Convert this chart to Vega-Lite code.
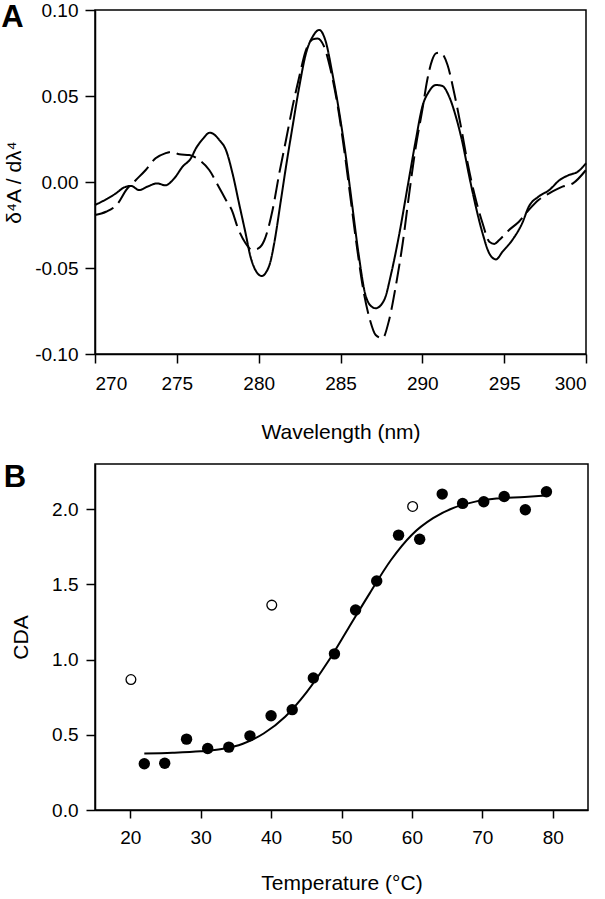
{
  "$schema": "https://vega.github.io/schema/vega-lite/v6.json",
  "background": "white",
  "padding": {"left": 0, "top": 0, "right": 5, "bottom": 0},
  "spacing": 17,
  "datasets": {
    "spectra": [
      {"wavelength": 270.0, "value": -0.0134, "trace": "solid"},
      {"wavelength": 270.67, "value": -0.0101, "trace": "solid"},
      {"wavelength": 271.28, "value": -0.0066, "trace": "solid"},
      {"wavelength": 271.79, "value": -0.0031, "trace": "solid"},
      {"wavelength": 272.2, "value": -0.0023, "trace": "solid"},
      {"wavelength": 272.7, "value": -0.0047, "trace": "solid"},
      {"wavelength": 273.2, "value": -0.0027, "trace": "solid"},
      {"wavelength": 273.8, "value": -0.0008, "trace": "solid"},
      {"wavelength": 274.3, "value": -0.0019, "trace": "solid"},
      {"wavelength": 274.84, "value": 0.0021, "trace": "solid"},
      {"wavelength": 275.35, "value": 0.0089, "trace": "solid"},
      {"wavelength": 275.86, "value": 0.0138, "trace": "solid"},
      {"wavelength": 276.17, "value": 0.0196, "trace": "solid"},
      {"wavelength": 276.57, "value": 0.0248, "trace": "solid"},
      {"wavelength": 277.02, "value": 0.0287, "trace": "solid"},
      {"wavelength": 277.6, "value": 0.0244, "trace": "solid"},
      {"wavelength": 278.0, "value": 0.0186, "trace": "solid"},
      {"wavelength": 278.4, "value": 0.0051, "trace": "solid"},
      {"wavelength": 278.8, "value": -0.0124, "trace": "solid"},
      {"wavelength": 279.2, "value": -0.0298, "trace": "solid"},
      {"wavelength": 279.5, "value": -0.0434, "trace": "solid"},
      {"wavelength": 279.8, "value": -0.0512, "trace": "solid"},
      {"wavelength": 280.2, "value": -0.0547, "trace": "solid"},
      {"wavelength": 280.45, "value": -0.0525, "trace": "solid"},
      {"wavelength": 280.7, "value": -0.047, "trace": "solid"},
      {"wavelength": 280.95, "value": -0.0356, "trace": "solid"},
      {"wavelength": 281.36, "value": -0.0105, "trace": "solid"},
      {"wavelength": 281.67, "value": 0.0089, "trace": "solid"},
      {"wavelength": 282.07, "value": 0.0322, "trace": "solid"},
      {"wavelength": 282.48, "value": 0.0554, "trace": "solid"},
      {"wavelength": 282.89, "value": 0.0748, "trace": "solid"},
      {"wavelength": 283.3, "value": 0.0845, "trace": "solid"},
      {"wavelength": 283.7, "value": 0.0884, "trace": "solid"},
      {"wavelength": 284.1, "value": 0.0816, "trace": "solid"},
      {"wavelength": 284.5, "value": 0.0632, "trace": "solid"},
      {"wavelength": 284.9, "value": 0.0419, "trace": "solid"},
      {"wavelength": 285.3, "value": 0.0167, "trace": "solid"},
      {"wavelength": 285.7, "value": -0.0124, "trace": "solid"},
      {"wavelength": 286.1, "value": -0.0415, "trace": "solid"},
      {"wavelength": 286.5, "value": -0.0647, "trace": "solid"},
      {"wavelength": 286.8, "value": -0.0715, "trace": "solid"},
      {"wavelength": 287.15, "value": -0.0734, "trace": "solid"},
      {"wavelength": 287.67, "value": -0.0686, "trace": "solid"},
      {"wavelength": 288.1, "value": -0.0531, "trace": "solid"},
      {"wavelength": 288.6, "value": -0.0298, "trace": "solid"},
      {"wavelength": 289.1, "value": -0.0027, "trace": "solid"},
      {"wavelength": 289.6, "value": 0.0244, "trace": "solid"},
      {"wavelength": 290.0, "value": 0.0438, "trace": "solid"},
      {"wavelength": 290.4, "value": 0.0525, "trace": "solid"},
      {"wavelength": 290.83, "value": 0.0564, "trace": "solid"},
      {"wavelength": 291.23, "value": 0.0558, "trace": "solid"},
      {"wavelength": 291.64, "value": 0.0496, "trace": "solid"},
      {"wavelength": 292.05, "value": 0.038, "trace": "solid"},
      {"wavelength": 292.46, "value": 0.0225, "trace": "solid"},
      {"wavelength": 292.87, "value": 0.0031, "trace": "solid"},
      {"wavelength": 293.27, "value": -0.0144, "trace": "solid"},
      {"wavelength": 293.68, "value": -0.0298, "trace": "solid"},
      {"wavelength": 294.09, "value": -0.0415, "trace": "solid"},
      {"wavelength": 294.5, "value": -0.045, "trace": "solid"},
      {"wavelength": 294.9, "value": -0.0405, "trace": "solid"},
      {"wavelength": 295.5, "value": -0.0337, "trace": "solid"},
      {"wavelength": 296.1, "value": -0.024, "trace": "solid"},
      {"wavelength": 296.5, "value": -0.0144, "trace": "solid"},
      {"wavelength": 297.1, "value": -0.0085, "trace": "solid"},
      {"wavelength": 297.75, "value": -0.0047, "trace": "solid"},
      {"wavelength": 298.4, "value": 0.0012, "trace": "solid"},
      {"wavelength": 298.97, "value": 0.0041, "trace": "solid"},
      {"wavelength": 299.5, "value": 0.006, "trace": "solid"},
      {"wavelength": 300.0, "value": 0.0109, "trace": "solid"},
      {"wavelength": 270.0, "value": -0.0192, "trace": "dashed"},
      {"wavelength": 270.67, "value": -0.0173, "trace": "dashed"},
      {"wavelength": 271.4, "value": -0.0124, "trace": "dashed"},
      {"wavelength": 271.9, "value": -0.0047, "trace": "dashed"},
      {"wavelength": 272.5, "value": 0.0012, "trace": "dashed"},
      {"wavelength": 273.1, "value": 0.007, "trace": "dashed"},
      {"wavelength": 273.7, "value": 0.0138, "trace": "dashed"},
      {"wavelength": 274.3, "value": 0.0167, "trace": "dashed"},
      {"wavelength": 274.7, "value": 0.0176, "trace": "dashed"},
      {"wavelength": 275.15, "value": 0.0161, "trace": "dashed"},
      {"wavelength": 275.76, "value": 0.0157, "trace": "dashed"},
      {"wavelength": 276.37, "value": 0.0128, "trace": "dashed"},
      {"wavelength": 276.98, "value": 0.007, "trace": "dashed"},
      {"wavelength": 277.5, "value": -0.0017, "trace": "dashed"},
      {"wavelength": 278.0, "value": -0.0105, "trace": "dashed"},
      {"wavelength": 278.4, "value": -0.0173, "trace": "dashed"},
      {"wavelength": 278.7, "value": -0.026, "trace": "dashed"},
      {"wavelength": 279.2, "value": -0.0356, "trace": "dashed"},
      {"wavelength": 279.6, "value": -0.0395, "trace": "dashed"},
      {"wavelength": 280.0, "value": -0.0385, "trace": "dashed"},
      {"wavelength": 280.34, "value": -0.034, "trace": "dashed"},
      {"wavelength": 280.85, "value": -0.0163, "trace": "dashed"},
      {"wavelength": 281.26, "value": 0.0051, "trace": "dashed"},
      {"wavelength": 281.67, "value": 0.0244, "trace": "dashed"},
      {"wavelength": 282.07, "value": 0.0438, "trace": "dashed"},
      {"wavelength": 282.48, "value": 0.0612, "trace": "dashed"},
      {"wavelength": 282.89, "value": 0.0767, "trace": "dashed"},
      {"wavelength": 283.3, "value": 0.0829, "trace": "dashed"},
      {"wavelength": 283.6, "value": 0.0835, "trace": "dashed"},
      {"wavelength": 284.0, "value": 0.0787, "trace": "dashed"},
      {"wavelength": 284.4, "value": 0.0651, "trace": "dashed"},
      {"wavelength": 284.8, "value": 0.0458, "trace": "dashed"},
      {"wavelength": 285.2, "value": 0.0205, "trace": "dashed"},
      {"wavelength": 285.6, "value": -0.0085, "trace": "dashed"},
      {"wavelength": 286.0, "value": -0.0376, "trace": "dashed"},
      {"wavelength": 286.43, "value": -0.0647, "trace": "dashed"},
      {"wavelength": 286.8, "value": -0.0802, "trace": "dashed"},
      {"wavelength": 287.15, "value": -0.089, "trace": "dashed"},
      {"wavelength": 287.56, "value": -0.0909, "trace": "dashed"},
      {"wavelength": 287.97, "value": -0.0802, "trace": "dashed"},
      {"wavelength": 288.37, "value": -0.0609, "trace": "dashed"},
      {"wavelength": 288.8, "value": -0.0356, "trace": "dashed"},
      {"wavelength": 289.2, "value": -0.0066, "trace": "dashed"},
      {"wavelength": 289.6, "value": 0.0205, "trace": "dashed"},
      {"wavelength": 290.0, "value": 0.0419, "trace": "dashed"},
      {"wavelength": 290.3, "value": 0.0593, "trace": "dashed"},
      {"wavelength": 290.6, "value": 0.0709, "trace": "dashed"},
      {"wavelength": 290.83, "value": 0.0748, "trace": "dashed"},
      {"wavelength": 291.1, "value": 0.0752, "trace": "dashed"},
      {"wavelength": 291.54, "value": 0.068, "trace": "dashed"},
      {"wavelength": 291.95, "value": 0.0516, "trace": "dashed"},
      {"wavelength": 292.36, "value": 0.0322, "trace": "dashed"},
      {"wavelength": 292.77, "value": 0.0109, "trace": "dashed"},
      {"wavelength": 293.17, "value": -0.0066, "trace": "dashed"},
      {"wavelength": 293.68, "value": -0.024, "trace": "dashed"},
      {"wavelength": 294.09, "value": -0.0347, "trace": "dashed"},
      {"wavelength": 294.4, "value": -0.036, "trace": "dashed"},
      {"wavelength": 294.7, "value": -0.0337, "trace": "dashed"},
      {"wavelength": 295.3, "value": -0.0279, "trace": "dashed"},
      {"wavelength": 295.9, "value": -0.0231, "trace": "dashed"},
      {"wavelength": 296.5, "value": -0.0163, "trace": "dashed"},
      {"wavelength": 297.1, "value": -0.0105, "trace": "dashed"},
      {"wavelength": 297.75, "value": -0.0066, "trace": "dashed"},
      {"wavelength": 298.56, "value": -0.0027, "trace": "dashed"},
      {"wavelength": 299.2, "value": -0.0008, "trace": "dashed"},
      {"wavelength": 300.0, "value": 0.007, "trace": "dashed"}
    ],
    "points": [
      {"temp": 22.0, "cda": 0.307, "kind": "filled"},
      {"temp": 24.9, "cda": 0.311, "kind": "filled"},
      {"temp": 28.0, "cda": 0.471, "kind": "filled"},
      {"temp": 31.0, "cda": 0.409, "kind": "filled"},
      {"temp": 34.0, "cda": 0.418, "kind": "filled"},
      {"temp": 37.0, "cda": 0.493, "kind": "filled"},
      {"temp": 40.0, "cda": 0.627, "kind": "filled"},
      {"temp": 43.0, "cda": 0.667, "kind": "filled"},
      {"temp": 46.0, "cda": 0.878, "kind": "filled"},
      {"temp": 49.0, "cda": 1.038, "kind": "filled"},
      {"temp": 52.0, "cda": 1.329, "kind": "filled"},
      {"temp": 55.0, "cda": 1.522, "kind": "filled"},
      {"temp": 58.1, "cda": 1.827, "kind": "filled"},
      {"temp": 61.1, "cda": 1.8, "kind": "filled"},
      {"temp": 64.3, "cda": 2.1, "kind": "filled"},
      {"temp": 67.2, "cda": 2.038, "kind": "filled"},
      {"temp": 70.2, "cda": 2.049, "kind": "filled"},
      {"temp": 73.1, "cda": 2.084, "kind": "filled"},
      {"temp": 76.1, "cda": 1.996, "kind": "filled"},
      {"temp": 79.1, "cda": 2.116, "kind": "filled"},
      {"temp": 20.1, "cda": 0.867, "kind": "open"},
      {"temp": 40.1, "cda": 1.362, "kind": "open"},
      {"temp": 60.1, "cda": 2.018, "kind": "open"}
    ],
    "fit": [
      {"temp": 22, "cda": 0.375},
      {"temp": 26, "cda": 0.38},
      {"temp": 30, "cda": 0.39},
      {"temp": 33, "cda": 0.405},
      {"temp": 36, "cda": 0.44},
      {"temp": 39, "cda": 0.51},
      {"temp": 42, "cda": 0.62},
      {"temp": 45, "cda": 0.78},
      {"temp": 48, "cda": 0.98},
      {"temp": 51, "cda": 1.21},
      {"temp": 54, "cda": 1.44},
      {"temp": 57, "cda": 1.66},
      {"temp": 60, "cda": 1.83},
      {"temp": 63, "cda": 1.94},
      {"temp": 66, "cda": 2.01},
      {"temp": 69, "cda": 2.05},
      {"temp": 72, "cda": 2.07},
      {"temp": 76, "cda": 2.08},
      {"temp": 79, "cda": 2.09}
    ],
    "panelA": [{"label": "A"}],
    "panelB": [{"label": "B"}]
  },
  "vconcat": [
    {
      "width": 491,
      "height": 344,
      "layer": [
        {
          "data": {"name": "spectra"},
          "mark": {"type": "line", "color": "black", "strokeWidth": 2, "interpolate": "monotone"},
          "encoding": {
            "x": {"field": "wavelength", "type": "quantitative",
                  "scale": {"domain": [270, 300], "nice": false, "zero": false},
                  "axis": {"title": "Wavelength (nm)", "values": [270, 275, 280, 285, 290, 295, 300],
                           "tickSize": 9, "labelPadding": 11, "titlePadding": 28}},
            "y": {"field": "value", "type": "quantitative",
                  "scale": {"domain": [-0.1, 0.1], "nice": false, "zero": false},
                  "axis": {"title": "δ⁴A / dλ⁴", "values": [-0.1, -0.05, 0, 0.05, 0.1], "format": ".2f",
                           "labelExpr": "replace(datum.label, '\u2212', '-')",
                           "tickSize": 10, "labelPadding": 7, "titlePadding": 10}},
            "detail": {"field": "trace"},
            "strokeDash": {"field": "trace", "type": "nominal",
                           "scale": {"domain": ["solid", "dashed"], "range": [[1, 0], [20, 7]]},
                           "legend": null}
          }
        },
        {
          "data": {"name": "panelA"},
          "mark": {"type": "text", "fontSize": 31, "fontWeight": "bold", "align": "center", "baseline": "alphabetic", "font": "Liberation Sans", "color": "black"},
          "encoding": {
            "x": {"datum": 264.96},
            "y": {"datum": 0.0901},
            "text": {"field": "label"}
          }
        }
      ]
    },
    {
      "width": 493,
      "height": 346,
      "layer": [
        {
          "data": {"name": "fit"},
          "mark": {"type": "line", "color": "black", "strokeWidth": 2, "interpolate": "monotone"},
          "encoding": {
            "x": {"field": "temp", "type": "quantitative",
                  "scale": {"domain": [15, 85], "nice": false, "zero": false},
                  "axis": {"title": "Temperature (°C)", "values": [20, 30, 40, 50, 60, 70, 80],
                           "tickSize": 8, "labelPadding": 10, "titlePadding": 25}},
            "y": {"field": "cda", "type": "quantitative",
                  "scale": {"domain": [0, 2.3], "nice": false, "zero": false},
                  "axis": {"title": "CDA", "values": [0, 0.5, 1, 1.5, 2], "format": ".1f",
                           "tickSize": 9, "labelPadding": 8, "titlePadding": 20}}
          }
        },
        {
          "data": {"name": "points"},
          "transform": [{"filter": "datum.kind === 'filled'"}],
          "mark": {"type": "point", "shape": "circle", "filled": true, "color": "black", "size": 130, "opacity": 1},
          "encoding": {
            "x": {"field": "temp", "type": "quantitative"},
            "y": {"field": "cda", "type": "quantitative"}
          }
        },
        {
          "data": {"name": "points"},
          "transform": [{"filter": "datum.kind === 'open'"}],
          "mark": {"type": "point", "shape": "circle", "filled": false, "color": "black", "size": 95, "strokeWidth": 1.3, "opacity": 1},
          "encoding": {
            "x": {"field": "temp", "type": "quantitative"},
            "y": {"field": "cda", "type": "quantitative"}
          }
        },
        {
          "data": {"name": "panelB"},
          "mark": {"type": "text", "fontSize": 31, "fontWeight": "bold", "align": "center", "baseline": "alphabetic", "font": "Liberation Sans", "color": "black"},
          "encoding": {
            "x": {"datum": 3.62},
            "y": {"datum": 2.149},
            "text": {"field": "label"}
          }
        }
      ]
    }
  ],
  "config": {
    "font": "Liberation Sans",
    "view": {"stroke": "black", "strokeWidth": 1.5},
    "axis": {
      "grid": false,
      "domainColor": "black",
      "domainWidth": 1.5,
      "tickColor": "black",
      "tickWidth": 1.5,
      "labelColor": "black",
      "titleColor": "black",
      "labelFont": "Liberation Sans",
      "titleFont": "Liberation Sans",
      "labelFontSize": 19,
      "titleFontSize": 21,
      "titleFontWeight": "normal"
    }
  }
}
